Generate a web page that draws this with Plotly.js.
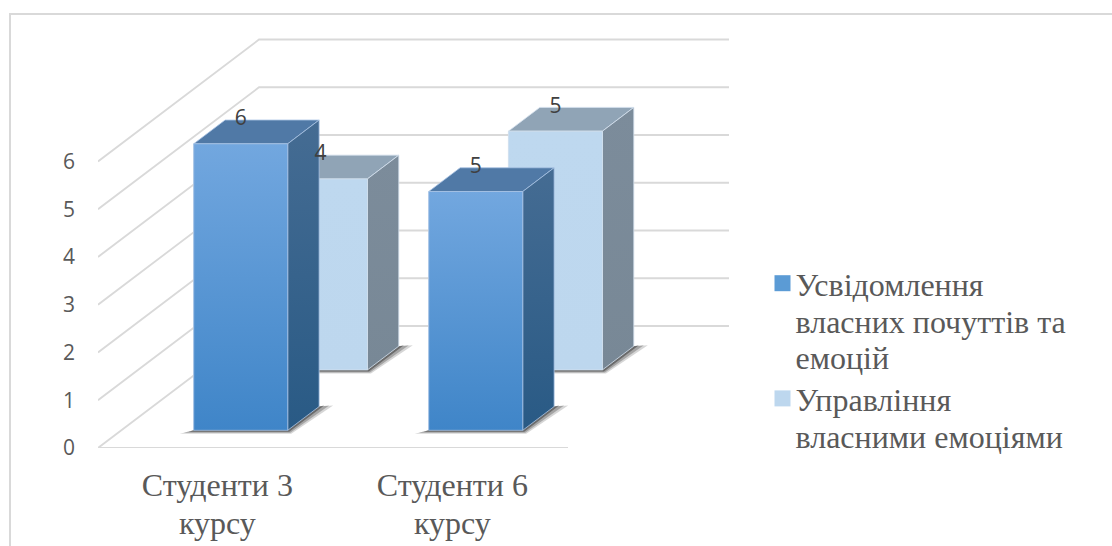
<!DOCTYPE html>
<html>
<head>
<meta charset="utf-8">
<script src="https://cdn.plot.ly/plotly-3.0.1.min.js"></script>
<style>html,body{margin:0;padding:0;background:#fff;overflow:hidden}#chart{width:1112px;height:546px}</style>
</head>
<body>
<div id="chart"></div>
<script>
const categories = ["Студенти 3<br>курсу", "Студенти 6<br>курсу"];
const seriesNames = ["Усвідомлення<br>власних почуттів та<br>емоцій", "Управління<br>власними емоціями"];
const awareness = [6, 5];
const management = [4, 5];
const yTicks = [0, 1, 2, 3, 4, 5, 6];

// Plot geometry
const W = 1112, H = 546, L = 98, R = 729, T = 36, B = 448;
const unitX = 235, unitY = 47.75;          // px per data unit
const xMin = -0.508, xMax = xMin + (R - L) / unitX, yMax = (B - T) / unitY;
const depthX = 161 / unitX, depthY = 122 / unitY;  // oblique projection of the depth axis
const barW = 94 / unitX;
const serif = "'Liberation Serif', 'Times New Roman', serif";
const sans = "'Open Sans', sans-serif";

const px = p => p / unitX, py = p => p / unitY;
const proj = (x, y, d) => [x + d * depthX, y + d * depthY];

const traces = [];
function poly(points, opts) {
  points = points.concat([points[0]]);
  traces.push(Object.assign({
    type: "scatter", mode: "lines", x: points.map(p => p[0]), y: points.map(p => p[1]),
    fill: "toself", line: { width: 0 }, hoverinfo: "skip", showlegend: false
  }, opts));
}

// Wall and floor grid
const gx = [], gy = [];
yTicks.forEach(k => {
  [proj(xMin, k, 0), proj(xMin, k, 1), proj(xMax - depthX, k, 1)].forEach(p => { gx.push(p[0]); gy.push(p[1]); });
  gx.push(null); gy.push(null);
});
[proj(xMin, 0, 0), proj(xMax - depthX, 0, 0)].forEach(p => { gx.push(p[0]); gy.push(p[1]); });
traces.push({ type: "scatter", mode: "lines", x: gx, y: gy, line: { color: "#d9d9d9", width: 1.8 }, hoverinfo: "skip", showlegend: false });

function box(cat, value, d0, d1, c) {
  const l = cat - barW / 2, r = cat + barW / 2;
  const fl0 = proj(l, 0, d0), fr0 = proj(r, 0, d0), fl1 = proj(l, value, d0), fr1 = proj(r, value, d0);
  const br0 = proj(r, 0, d1), br1 = proj(r, value, d1), bl1 = proj(l, value, d1);
  // soft contact shadow
  [[14, 3.5, 0.2], [10, 2.5, 0.3], [5, 1.5, 0.5]].forEach(s => {
    poly([[fl0[0] - px(s[0]), fl0[1] - py(s[1])], [fr0[0] + px(s[1]), fr0[1] - py(s[1])],
          [br0[0] + px(s[0]), br0[1] + py(1)], [br0[0], br0[1]], [fl0[0], fl0[1]]],
         { fillcolor: `rgba(50,50,50,${s[2]})` });
  });
  poly([fl1, fr1, br1, bl1], { fillcolor: c.top, line: { width: 0.8, color: c.edge } });
  poly([fr0, br0, br1, fr1], { fillcolor: c.side, fillgradient: { type: "vertical", colorscale: [[0, c.side0], [1, c.side1]] }, line: { width: 0.8, color: c.edge } });
  poly([fl0, fr0, fr1, fl1], { fillcolor: c.front, fillgradient: { type: "vertical", colorscale: [[0, c.front0], [1, c.front1]] }, line: { width: 0.8, color: c.edge } });
}

const depthA = [0.145, 0.34], depthB = [0.64, 0.835];
const colA = { top: "#5079a6", front: "#5b9bd5", front0: "#3f85c8", front1: "#72a7df", side0: "#295a85", side1: "#456c93", edge: "#a9c4e4" };
const colB = { top: "#90a4b6", front: "#bdd7ee", front0: "#bdd7ee", front1: "#bed8ef", side0: "#788896", side1: "#7c8c9b", edge: "#d3e0ee" };

// Real bars (front faces) carry the data and the legend; the projected faces add the 3D look
function barTrace(values, d, name, color) {
  return {
    type: "bar", name: name, x: categories.map((_, i) => proj(i, 0, d)[0]),
    y: values, base: values.map(() => d * depthY), width: barW,
    marker: { color: color, line: { width: 0 } }, hoverinfo: "skip"
  };
}
traces.push(barTrace(awareness, depthA[0], seriesNames[0], colA.front));
traces.push(barTrace(management, depthB[0], seriesNames[1], colB.front));

management.forEach((v, i) => box(i, v, depthB[0], depthB[1], colB));
awareness.forEach((v, i) => box(i, v, depthA[0], depthA[1], colA));

// Data labels
function labelTrace(values, d) {
  return {
    type: "scatter", mode: "text",
    x: values.map((v, i) => proj(i, 0, d[0])[0]),
    y: values.map(v => v + d[1] * depthY),
    text: values.map(String), textposition: "middle center",
    textfont: { family: sans, size: 21, color: "#404040" },
    hoverinfo: "skip", showlegend: false
  };
}
traces.push(labelTrace(management, depthB));
traces.push(labelTrace(awareness, depthA));

const layout = {
  width: W, height: H, autosize: false,
  margin: { l: L, r: W - R, t: T, b: H - B, pad: 0 },
  paper_bgcolor: "#fff", plot_bgcolor: "rgba(0,0,0,0)",
  barmode: "overlay", font: { family: serif, color: "#595959" },
  xaxis: {
    range: [xMin, xMax], showgrid: false, zeroline: false, showline: false,
    tickmode: "array", tickvals: categories.map((_, i) => i), ticktext: categories,
    ticks: "", ticklabelstandoff: 18, tickangle: 0,
    tickfont: { family: serif, size: 29, color: "#595959" }
  },
  yaxis: {
    range: [0, yMax], showgrid: false, zeroline: false, showline: false,
    tickmode: "array", tickvals: yTicks, ticktext: yTicks.map(String),
    ticks: "", ticklabelstandoff: 22,
    tickfont: { family: sans, size: 21, color: "#595959" }
  },
  legend: {
    x: (755.5 - L) / (R - L), xanchor: "left", y: (B - 260.5) / (B - T), yanchor: "top",
    font: { family: serif, size: 28, color: "#595959" },
    entrywidth: 290, entrywidthmode: "pixels",
    bgcolor: "rgba(0,0,0,0)", itemclick: false, itemdoubleclick: false, tracegroupgap: 0
  },
  shapes: [{
    type: "path", xref: "paper", yref: "paper", layer: "below",
    path: `M${(10 - L) / (R - L)},${(B - 560) / (B - T)} L${(10 - L) / (R - L)},${(B - 14) / (B - T)} L${(1120 - L) / (R - L)},${(B - 14) / (B - T)}`,
    line: { color: "#d9d9d9", width: 2 }
  }]
};

// The reference's serif text is set wider than its line pitch: enlarge glyphs but keep pitch.
function tightenText(gd, selector, size, pitch) {
  gd.querySelectorAll(selector).forEach(t => {
    t.style.fontSize = size + "px";
    t.querySelectorAll("tspan.line").forEach((s, i) => {
      if (s.hasAttribute("dy")) s.setAttribute("dy", (parseFloat(s.getAttribute("dy")) ? i * pitch : 0) + "px");
    });
  });
}
Plotly.newPlot("chart", traces, layout, { displayModeBar: false }).then(gd => {
  tightenText(gd, ".legendtext", 32, 36.4);
  tightenText(gd, ".xtick text", 32, 38);
  gd.querySelectorAll(".legend .scrollbox, .legend .legendtoggle").forEach(e => e.removeAttribute("clip-path"));
  gd.querySelectorAll(".legend .traces").forEach((tr, idx) => {
    const n = tr.querySelectorAll(".legendtext tspan.line").length;
    const pts = tr.querySelector(".legendpoints");
    if (pts) pts.setAttribute("transform", `translate(7,${-(n - 1) * 18.2 - 2})`);
    tr.querySelectorAll(".legendpoints path").forEach(p => p.setAttribute("d", "M8,8H-8V-8H8Z"));
    if (idx === 1) {
      const m = /translate\(([-\d.]+)[, ]+([-\d.]+)\)/.exec(tr.getAttribute("transform") || "");
      if (m) tr.setAttribute("transform", `translate(${m[1]},${parseFloat(m[2]) + 3})`);
    }
  });
});
</script>
</body>
</html>
